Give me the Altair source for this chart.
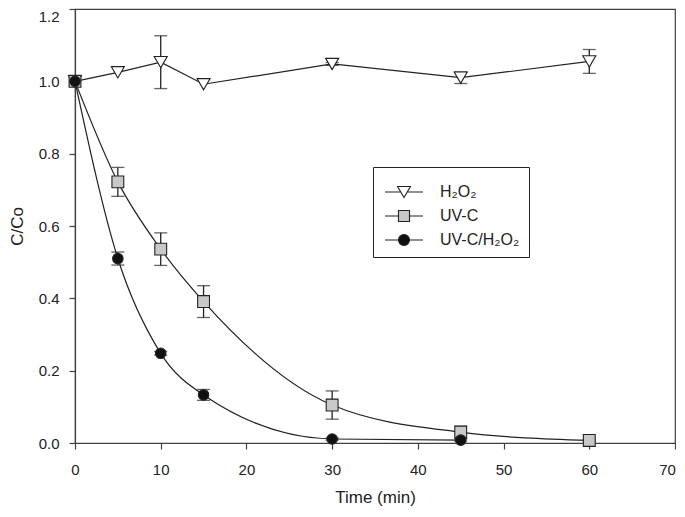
import altair as alt
import pandas as pd

# ---- data ----
series_names = ["H₂O₂", "UV-C", "UV-C/H₂O₂"]

time_h2o2 = [0, 5, 10, 15, 30, 45, 60]
val_h2o2 = [1.000, 1.025, 1.053, 0.992, 1.048, 1.010, 1.055]
err_h2o2 = [0.000, 0.000, 0.073, 0.000, 0.004, 0.016, 0.033]

time_uvc = [0, 5, 10, 15, 30, 45, 60]
val_uvc = [1.000, 0.722, 0.536, 0.391, 0.105, 0.030, 0.007]
err_uvc = [0.000, 0.040, 0.045, 0.044, 0.039, 0.017, 0.003]

time_uvch = [0, 5, 10, 15, 30, 45]
val_uvch = [1.000, 0.510, 0.248, 0.133, 0.011, 0.008]
err_uvch = [0.000, 0.018, 0.005, 0.015, 0.003, 0.003]

x_ticks = [0, 10, 20, 30, 40, 50, 60, 70]
y_ticks = [0.0, 0.2, 0.4, 0.6, 0.8, 1.0, 1.2]

fills = ["white", "#c8c8c8", "#111111"]

rows = []
for name, ts, vs, es in [
    (series_names[0], time_h2o2, val_h2o2, err_h2o2),
    (series_names[1], time_uvc, val_uvc, err_uvc),
    (series_names[2], time_uvch, val_uvch, err_uvch),
]:
    for t, v, e in zip(ts, vs, es):
        rows.append({"series": name, "t": t, "v": v, "lo": v - e, "hi": v + e, "err": e})
df = pd.DataFrame(rows)

FONT = "Liberation Sans"
AX = "#404040"
INK = "#222222"

x_enc = alt.X("t:Q", scale=alt.Scale(domain=[0, 70], nice=False),
              axis=alt.Axis(values=x_ticks, title="Time (min)", grid=False, format="d",
                            labelFlush=False,
                            labelOffset={"condition": {"test": "datum.value >= 69", "value": -8},
                                         "value": 0}))
y_enc = alt.Y("v:Q", scale=alt.Scale(domain=[0, 1.2], nice=False),
              axis=alt.Axis(values=y_ticks, title="C/Co", grid=False, format=".1f",
                            labelFlush=False,
                            labelOffset={"condition": {"test": "datum.value >= 1.19", "value": 7},
                                         "value": 0}))

base = alt.Chart(df)

line_lin = base.transform_filter(alt.datum.series == series_names[0]).mark_line(
    color=INK, strokeWidth=1.2, clip=True
).encode(x=x_enc, y=y_enc, detail="series:N")

line_smooth = base.transform_filter(alt.datum.series != series_names[0]).mark_line(
    color=INK, strokeWidth=1.2, interpolate="monotone", clip=True
).encode(x=x_enc, y=y_enc, detail="series:N")

errs = base.transform_filter(alt.datum.err > 0)
err_rule = errs.mark_rule(color=INK, strokeWidth=1.3).encode(
    x="t:Q", y="lo:Q", y2="hi:Q")
cap_hi = errs.mark_tick(orient="horizontal", size=13, thickness=1.3, color=INK).encode(
    x="t:Q", y="hi:Q")
cap_lo = errs.mark_tick(orient="horizontal", size=13, thickness=1.3, color=INK).encode(
    x="t:Q", y="lo:Q")

points = base.mark_point(filled=True, stroke=INK, strokeWidth=1.1, opacity=1).encode(
    x="t:Q", y="v:Q",
    shape=alt.Shape("series:N", scale=alt.Scale(domain=series_names,
                                                range=["triangle-down", "square", "circle"]),
                    legend=None),
    fill=alt.Fill("series:N", scale=alt.Scale(domain=series_names, range=fills),
                  legend=None),
    size=alt.Size("series:O", scale=alt.Scale(domain=series_names, range=[170, 110, 125]),
                  legend=None),
)

# legend symbols: line segment with the marker in the middle (units of 15 px)
p_tri = "M-1.27,0H-0.215M0.215,0H1.27M-0.43,-0.367L0.43,-0.367L0,0.367Z"
p_sq = "M-1.27,0H-0.367M0.367,0H1.27M-0.367,-0.367H0.367V0.367H-0.367Z"
p_ci = ("M-1.27,0H-0.367M0.367,0H1.27M-0.367,0A0.367,0.367 0 1,0 0.367,0"
        "A0.367,0.367 0 1,0 -0.367,0Z")


def make_legend():
    return alt.Legend(title=None, orient="none", legendX=298, legendY=158,
                      symbolSize=900, symbolStrokeWidth=1.1,
                      symbolStrokeColor=INK, symbolOpacity=1,
                      symbolOffset=6,
                      labelFont=FONT, labelFontSize=16, labelColor=INK,
                      labelOffset=20, rowPadding=0,
                      padding=9, strokeColor=INK, fillColor="white")


legend_layer = base.mark_point(filled=True, opacity=0).encode(
    x="t:Q", y="v:Q",
    shape=alt.Shape("series:N", scale=alt.Scale(domain=series_names, range=[p_tri, p_sq, p_ci]),
                    legend=make_legend()),
    fill=alt.Fill("series:N", scale=alt.Scale(domain=series_names, range=fills),
                  legend=make_legend()),
    stroke=alt.Stroke("series:N", scale=alt.Scale(domain=series_names, range=[INK, INK, INK]),
                      legend=make_legend()),
)

chart = alt.layer(
    line_lin, line_smooth, err_rule, cap_hi, cap_lo, points, legend_layer
).resolve_scale(shape="independent", fill="independent", stroke="independent").properties(
    width=600, height=434,
    autosize=alt.AutoSizeParams(type="none"),
    padding={"left": 67, "top": 1, "right": 1, "bottom": 64},
    background="white",
).configure_view(
    stroke=AX, strokeWidth=1.2
).configure_axis(
    labelFont=FONT, titleFont=FONT, labelFontSize=15, titleFontSize=17,
    labelColor=INK, titleColor=INK, titleFontWeight="normal",
    domainColor=AX, tickColor=AX, tickSize=6, domainWidth=1.2, tickWidth=1.2,
).configure_axisX(
    labelPadding=13, titlePadding=12
).configure_axisY(
    labelPadding=10, titlePadding=12
)

chart.save("out.html", embed_options={"renderer": "svg", "actions": False})
